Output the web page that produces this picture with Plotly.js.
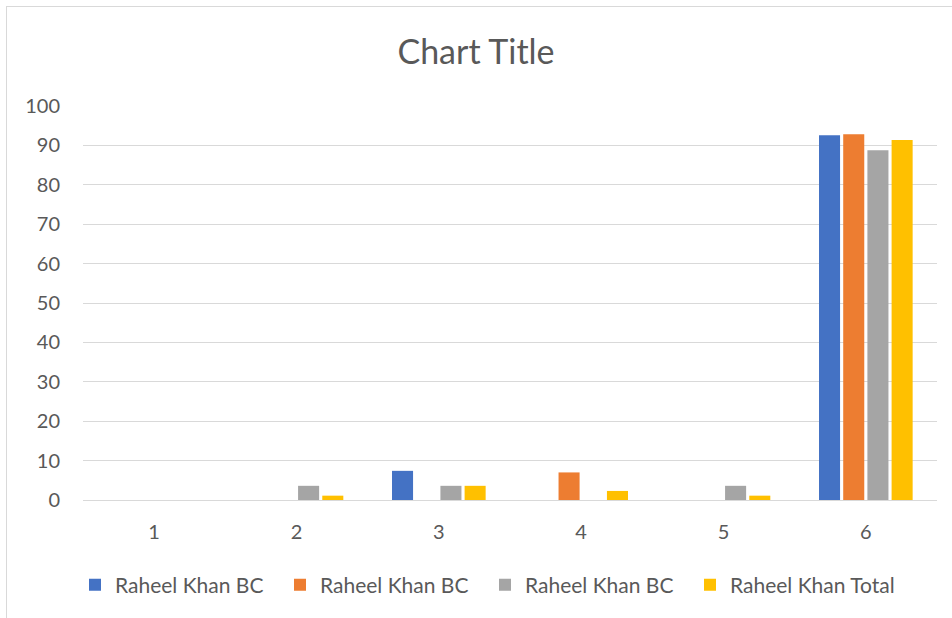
<!DOCTYPE html>
<html>
<head>
<meta charset="utf-8">
<script src="https://cdn.plot.ly/plotly-3.0.1.min.js"></script>
<style>
  html, body { margin: 0; padding: 0; background: #ffffff; overflow: hidden; }
  #frame { position: absolute; left: 6px; top: 6px; width: 960px; height: 640px; border: 1px solid #d9d9d9; box-sizing: border-box; }
  #chart { position: absolute; left: 0; top: 0; width: 952px; height: 618px; }
</style>
</head>
<body>
<div id="frame"></div>
<div id="chart"></div>
<script>
const categories = ["1", "2", "3", "4", "5", "6"];
const seriesNames = ["Raheel Khan BC", "Raheel Khan BC", "Raheel Khan BC", "Raheel Khan Total"];
const series1 = [0, 0, 7.4, 0, 0, 92.6];
const series2 = [0, 0, 0, 7.0, 0, 92.8];
const series3 = [0, 3.6, 3.6, 0, 3.6, 88.8];
const series4 = [0, 1.1, 3.6, 2.3, 1.1, 91.4];
const yTicks = [0, 10, 20, 30, 40, 50, 60, 70, 80, 90, 100];

const colors = ["#4472C4", "#ED7D31", "#A5A5A5", "#FFC000"];
const allSeries = [series1, series2, series3, series4];

const traces = allSeries.map((vals, i) => ({
  type: "bar",
  x: categories,
  y: vals,
  name: seriesNames[i],
  marker: { color: colors[i], line: { width: 0 } },
  hoverinfo: "x+y+name"
}));

const fontFam = "Lato, 'Open Sans', sans-serif";
const layout = {
  width: 952,
  height: 618,
  margin: { l: 83, r: 15, t: 106, b: 118 },
  paper_bgcolor: "rgba(0,0,0,0)",
  plot_bgcolor: "rgba(0,0,0,0)",
  font: { family: fontFam, color: "#595959", size: 20 },
  title: {
    text: "Chart Title",
    font: { family: fontFam, size: 34, color: "#595959" },
    x: 0.5, xanchor: "center",
    y: 1 - 52 / 618, yanchor: "middle", xref: "container", yref: "container"
  },
  barmode: "group",
  bargap: 0.32,
  bargroupgap: 0.13,
  xaxis: {
    type: "category",
    showgrid: false,
    showline: false,
    zeroline: false,
    ticks: "",
    ticklabelstandoff: 18,
    tickfont: { size: 20, color: "#595959" },
    automargin: false
  },
  yaxis: {
    range: [0, 100],
    tickvals: yTicks,
    ticktext: yTicks.map(String),
    showgrid: true,
    gridcolor: "#d9d9d9",
    gridwidth: 1,
    zeroline: true,
    zerolinecolor: "#d9d9d9",
    zerolinewidth: 1,
    showline: false,
    ticks: "",
    ticklabelstandoff: 22,
    tickfont: { size: 20, color: "#595959" },
    automargin: false
  },
  showlegend: true,
  legend: {
    orientation: "h",
    xref: "container", yref: "container",
    x: 75 / 952, xanchor: "left",
    y: 1 - 585 / 618, yanchor: "middle",
    entrywidth: 160,
    entrywidthmode: "pixels",
    font: { size: 21, color: "#595959", family: fontFam },
    bgcolor: "rgba(0,0,0,0)",
    traceorder: "normal"
  }
};

Plotly.newPlot("chart", traces, layout, { displayModeBar: false, staticPlot: true });
</script>
</body>
</html>
